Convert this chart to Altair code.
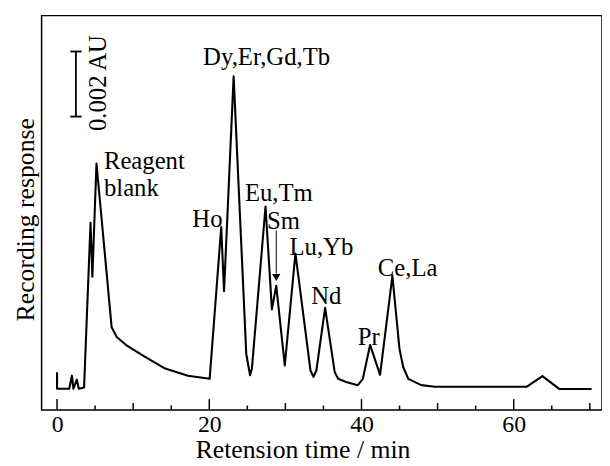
import altair as alt
import pandas as pd

# chromatogram trace (retention time in min, response in arbitrary units)
time = [0.0, 0.0, 1.6, 1.95, 2.15, 2.6, 2.85, 3.55, 4.4, 4.64, 5.18, 7.17, 7.84, 9.19,
        11.35, 14.2, 17.2, 20.05, 21.57, 21.94, 23.2, 24.86, 25.36, 25.6, 27.39, 28.23,
        28.8, 29.92, 31.32, 33.3, 33.69, 34.07, 35.22, 36.48, 36.94, 37.97, 39.52, 40.18,
        41.13, 42.44, 44.06, 44.99, 45.48, 46.15, 47.84, 49.66, 61.74, 63.77, 66.03, 70.23]
resp = [9.6, 5.4, 5.4, 8.7, 5.4, 7.7, 5.4, 5.7, 47.5, 33.8, 62.5, 21.0, 18.5, 16.3,
        13.7, 10.5, 8.7, 7.9, 46.4, 30.1, 84.6, 14.2, 8.8, 10.5, 51.6, 25.5,
        31.5, 11.3, 39.7, 10.0, 8.4, 10.0, 25.9, 9.6, 7.9, 7.1, 6.3, 7.9,
        16.5, 8.9, 34.0, 15.5, 10.9, 7.9, 6.3, 5.9, 5.9, 8.6, 5.3, 5.3]

# peak labels
label_text = ["Reagent", "blank", "Dy,Er,Gd,Tb", "Ho", "Eu,Tm", "Sm", "Lu,Yb", "Nd", "Pr", "Ce,La"]
label_t = [6.16, 6.16, 27.53, 19.76, 29.14, 29.74, 34.73, 35.38, 40.96, 46.06]
label_v = [63.1, 56.3, 89.4, 48.5, 54.9, 48.0, 41.4, 28.8, 18.4, 35.9]
label_align = ["left", "left", "center", "center", "center", "center", "center", "center", "center", "center"]

# scale bar (0.002 AU)
bar_t = 2.48
bar_t_lo, bar_t_hi = 1.74, 3.23
bar_lo, bar_hi = 74.4, 90.9
bar_label_t, bar_label_v = 5.38, 82.9

# Sm arrow
arrow_t = 28.8
arrow_top, arrow_tip = 45.5, 33.6

# x ticks
tick_major = [0, 20, 40, 60]
tick_mid = [10, 30, 50, 70]
tick_minor = [5, 15, 25, 35, 45, 55, 65]
x_label_values = [0, 20, 40, 60]

XDOM = [-2.03, 71.6]
YDOM = [0, 100]
W, H = 567, 399
FONT = "Liberation Serif"

trace = pd.DataFrame({"t": time, "v": resp, "i": list(range(len(time)))})
labels = pd.DataFrame({"text": label_text, "t": label_t, "v": label_v, "align": label_align})

xs = alt.Scale(domain=XDOM, nice=False, zero=False)
ys = alt.Scale(domain=YDOM, nice=False, zero=False)

line = alt.Chart(trace).mark_line(color="black", strokeWidth=2.1, strokeJoin="round").encode(
    x=alt.X("t:Q", scale=xs,
            axis=alt.Axis(values=x_label_values, ticks=False, domain=False, grid=False,
                          labelFont=FONT, labelFontSize=24, labelColor="black", labelPadding=3,
                          title="Retension time / min", titleFont=FONT, titleFontSize=26,
                          titleFontWeight="normal", titleColor="black",
                          titleX=264, titleY=48, titleBaseline="alphabetic", titleAlign="center")),
    y=alt.Y("v:Q", scale=ys,
            axis=alt.Axis(labels=False, ticks=False, domain=False, grid=False,
                          title="Recording response", titleFont=FONT, titleFontSize=26,
                          titleFontWeight="normal", titleColor="black", titlePadding=3,
                          titleY=206)),
    order="i:Q",
)

def ticks(vals, length):
    df = pd.DataFrame({"t": vals})
    return alt.Chart(df).mark_rule(color="black", strokeWidth=1.5).encode(
        x=alt.X("t:Q", scale=xs), y=alt.value(H), y2=alt.value(H - length))

left_lab = alt.Chart(labels[labels["align"] == "left"]).mark_text(
    font=FONT, fontSize=25, align="left", baseline="middle", color="black").encode(
    x=alt.X("t:Q", scale=xs), y=alt.Y("v:Q", scale=ys), text="text:N")
center_lab = alt.Chart(labels[labels["align"] == "center"]).mark_text(
    font=FONT, fontSize=25, align="center", baseline="middle", color="black").encode(
    x=alt.X("t:Q", scale=xs), y=alt.Y("v:Q", scale=ys), text="text:N")

bar_df = pd.DataFrame({"t": [bar_t], "lo": [bar_lo], "hi": [bar_hi]})
bar = alt.Chart(bar_df).mark_rule(color="black", strokeWidth=1.8).encode(
    x=alt.X("t:Q", scale=xs), y=alt.Y("lo:Q", scale=ys), y2="hi:Q")
caps_df = pd.DataFrame({"a": [bar_t_lo, bar_t_lo], "b": [bar_t_hi, bar_t_hi], "v": [bar_lo, bar_hi]})
caps = alt.Chart(caps_df).mark_rule(color="black", strokeWidth=1.8).encode(
    x=alt.X("a:Q", scale=xs), x2="b:Q", y=alt.Y("v:Q", scale=ys))
bar_lab = alt.Chart(pd.DataFrame({"t": [bar_label_t], "v": [bar_label_v], "text": ["0.002 AU"]})).mark_text(
    font=FONT, fontSize=25, angle=270, align="center", baseline="middle", color="black").encode(
    x=alt.X("t:Q", scale=xs), y=alt.Y("v:Q", scale=ys), text="text:N")

arrow_df = pd.DataFrame({"t": [arrow_t], "a": [arrow_top], "b": [arrow_tip + 1.0]})
arrow = alt.Chart(arrow_df).mark_rule(color="black", strokeWidth=1.0).encode(
    x=alt.X("t:Q", scale=xs), y=alt.Y("a:Q", scale=ys), y2="b:Q")
head = alt.Chart(pd.DataFrame({"t": [arrow_t], "v": [arrow_tip]})).mark_point(
    shape="triangle-down", filled=True, color="black", size=70, opacity=1).encode(
    x=alt.X("t:Q", scale=xs), y=alt.Y("v:Q", scale=ys))

chart = alt.layer(
    line, ticks(tick_major, 11), ticks(tick_mid, 7), ticks(tick_minor, 4.5),
    left_lab, center_lab, bar, caps, bar_lab, arrow, head
).properties(
    width=W, height=H, autosize="none",
    padding={"left": 34, "top": 5, "right": 0, "bottom": 58},
    background="white",
).configure_view(stroke="black", strokeWidth=1.5)

chart.save("out.html", embed_options={"renderer": "svg", "actions": False})
